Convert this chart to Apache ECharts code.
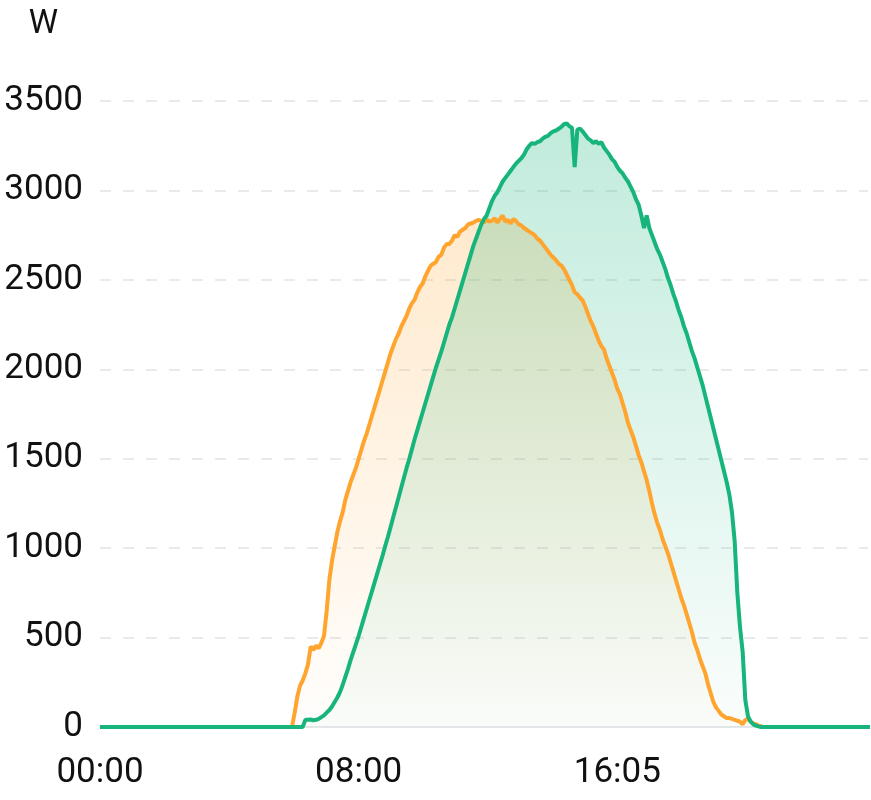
<!DOCTYPE html>
<html>
<head>
<meta charset="utf-8">
<style>
  html, body { margin: 0; padding: 0; background: #fff; }
  #main { width: 871px; height: 800px; }
</style>
<script src="https://cdn.jsdelivr.net/npm/echarts@6/dist/echarts.min.js"></script>
</head>
<body>
<div id="main"></div>
<script>
// 5-minute samples; the first sample is stamped 00:00 as well
const times = ["00:00"];
for (let m = 0; m < 24 * 60; m += 5) {
  times.push(String(Math.floor(m / 60)).padStart(2, "0") + ":" + String(m % 60).padStart(2, "0"));
}

const yTicks = [0, 500, 1000, 1500, 2000, 2500, 3000, 3500];

// orange series (drawn first)
const orangeValues = [
  0, 0, 0, 0, 0, 0, 0, 0, 0, 0, 0, 0, 0, 0, 0, 0, 0, 0, 0, 0, 0, 0, 0, 0,
  0, 0, 0, 0, 0, 0, 0, 0, 0, 0, 0, 0, 0, 0, 0, 0, 0, 0, 0, 0, 0, 0, 0, 0,
  0, 0, 0, 0, 0, 0, 0, 0, 0, 0, 0, 0, 0, 0, 0, 0, 0, 0, 0, 0, 0, 0, 0, 0,
  0, 80, 170, 230, 260, 300, 350, 450, 430, 455, 440, 470, 510, 650, 820, 930,
  1010, 1090, 1150, 1200, 1270, 1320, 1370, 1410, 1450, 1500, 1550, 1600,
  1640, 1690, 1740, 1790, 1840, 1890, 1940, 1990, 2040, 2090, 2130, 2170,
  2200, 2240, 2270, 2300, 2340, 2370, 2390, 2430, 2460, 2480, 2520, 2550,
  2580, 2590, 2600, 2630, 2640, 2680, 2700, 2700, 2720, 2750, 2740, 2770,
  2780, 2790, 2810, 2815, 2820, 2830, 2835, 2830, 2820, 2840, 2825, 2830,
  2845, 2820, 2840, 2860, 2825, 2835, 2815, 2840, 2830, 2810, 2805, 2790,
  2780, 2770, 2760, 2750, 2730, 2720, 2700, 2680, 2660, 2640, 2625, 2610,
  2590, 2580, 2560, 2530, 2500, 2470, 2430, 2420, 2400, 2385, 2350, 2310,
  2270, 2240, 2200, 2160, 2130, 2110, 2060, 2020, 1980, 1940, 1890, 1860,
  1810, 1760, 1700, 1660, 1620, 1570, 1520, 1480, 1430, 1380, 1320, 1250,
  1190, 1140, 1100, 1050, 1010, 970, 920, 870, 820, 770, 720, 680,
  630, 580, 530, 470, 430, 380, 340, 300, 240, 190, 140, 110,
  90, 70, 60, 50, 50, 45, 40, 35, 30, 15, 40, 45,
  30, 20, 15, 8, 3, 0, 0, 0, 0, 0, 0, 0, 0, 0, 0, 0, 0, 0, 0, 0, 0, 0, 0, 0,
  0, 0, 0, 0, 0, 0, 0, 0, 0, 0, 0, 0, 0, 0, 0, 0, 0, 0, 0, 0, 0, 0, 0, 0,
  0
];

// green series (drawn on top)
const greenValues = [
  0, 0, 0, 0, 0, 0, 0, 0, 0, 0, 0, 0, 0, 0, 0, 0, 0, 0, 0, 0, 0, 0, 0, 0,
  0, 0, 0, 0, 0, 0, 0, 0, 0, 0, 0, 0, 0, 0, 0, 0, 0, 0, 0, 0, 0, 0, 0, 0,
  0, 0, 0, 0, 0, 0, 0, 0, 0, 0, 0, 0, 0, 0, 0, 0, 0, 0, 0, 0, 0, 0, 0, 0,
  0, 0, 0, 0, 0, 40, 40, 42, 38, 40, 45, 55, 65, 80, 95, 115,
  140, 165, 195, 235, 280, 325, 375, 420, 465, 510, 560, 610,
  660, 710, 760, 810, 860, 910, 960, 1015, 1065, 1120, 1175, 1230,
  1285, 1340, 1395, 1450, 1500, 1555, 1610, 1660, 1710, 1760, 1810, 1860,
  1910, 1960, 2010, 2055, 2100, 2150, 2200, 2250, 2290, 2340, 2390, 2440,
  2490, 2540, 2590, 2640, 2690, 2730, 2770, 2810, 2840, 2860, 2900, 2940,
  2970, 2990, 3020, 3050, 3070, 3090, 3110, 3130, 3150, 3165, 3180, 3200,
  3230, 3250, 3265, 3260, 3270, 3275, 3290, 3300, 3305, 3320, 3330, 3335,
  3345, 3355, 3370, 3375, 3360, 3350, 3130, 3340, 3345, 3330, 3310, 3290,
  3280, 3265, 3275, 3260, 3270, 3240, 3220, 3200, 3175, 3160, 3130, 3110,
  3095, 3070, 3050, 3020, 2990, 2950, 2920, 2860, 2790, 2860, 2790, 2750,
  2710, 2670, 2640, 2600, 2560, 2510, 2470, 2420, 2380, 2330, 2290, 2240,
  2200, 2150, 2100, 2060, 2010, 1960, 1910, 1850, 1790, 1730, 1670, 1610,
  1550, 1490, 1430, 1370, 1300, 1200, 1040, 750, 560, 420, 150, 60,
  30, 15, 8, 3, 0, 0, 0, 0, 0, 0, 0, 0, 0, 0, 0, 0, 0, 0, 0, 0, 0, 0, 0, 0,
  0, 0, 0, 0, 0, 0, 0, 0, 0, 0, 0, 0, 0, 0, 0, 0, 0, 0, 0, 0, 0, 0, 0, 0,
  0
];

const fontFamily = "Roboto, 'Noto Sans', sans-serif";

const areaFill = (r, g, b, top, bottom) => ({
  color: new echarts.graphic.LinearGradient(0, 0, 0, 1, [
    { offset: 0, color: `rgba(${r},${g},${b},${top})` },
    { offset: 1, color: `rgba(${r},${g},${b},${bottom})` },
  ]),
});

const option = {
  animation: false,
  backgroundColor: "#fff",
  grid: { left: 100, right: 3, top: 101, bottom: 73, outerBoundsMode: "none" },
  xAxis: {
    type: "category",
    data: times,
    boundaryGap: false,
    axisTick: { show: false },
    axisLine: { lineStyle: { color: "#e4e7ea", width: 2 } },
    axisLabel: {
      interval: 96,
      margin: 29,
      color: "#111",
      fontSize: 35,
      fontFamily,
    },
    splitLine: { show: false },
  },
  yAxis: {
    type: "value",
    min: yTicks[0],
    max: yTicks[yTicks.length - 1],
    interval: 500,
    name: "W",
    nameGap: 60,
    nameTextStyle: {
      color: "#111",
      fontSize: 33,
      fontFamily,
      align: "right",
      padding: [0, 42, 0, 0],
    },
    axisLine: { show: false },
    axisTick: { show: false },
    axisLabel: {
      margin: 17,
      color: "#111",
      fontSize: 35,
      fontFamily,
      formatter: (value) => String(value),
    },
    splitLine: {
      lineStyle: { color: "#e8ebed", width: 2, type: [11, 12] },
    },
  },
  series: [
    {
      name: "orange",
      type: "line",
      data: orangeValues,
      symbol: "none",
      lineStyle: { color: "#ffa52f", width: 4 },
      itemStyle: { color: "#ffa52f" },
      areaStyle: areaFill(255, 165, 47, 0.34, 0.02),
    },
    {
      name: "green",
      type: "line",
      data: greenValues,
      symbol: "none",
      lineStyle: { color: "#17b57c", width: 4 },
      itemStyle: { color: "#17b57c" },
      areaStyle: areaFill(23, 181, 124, 0.38, 0.03),
    },
  ],
};

const myChart = echarts.init(document.getElementById("main"));
myChart.setOption(option);
</script>
</body>
</html>
